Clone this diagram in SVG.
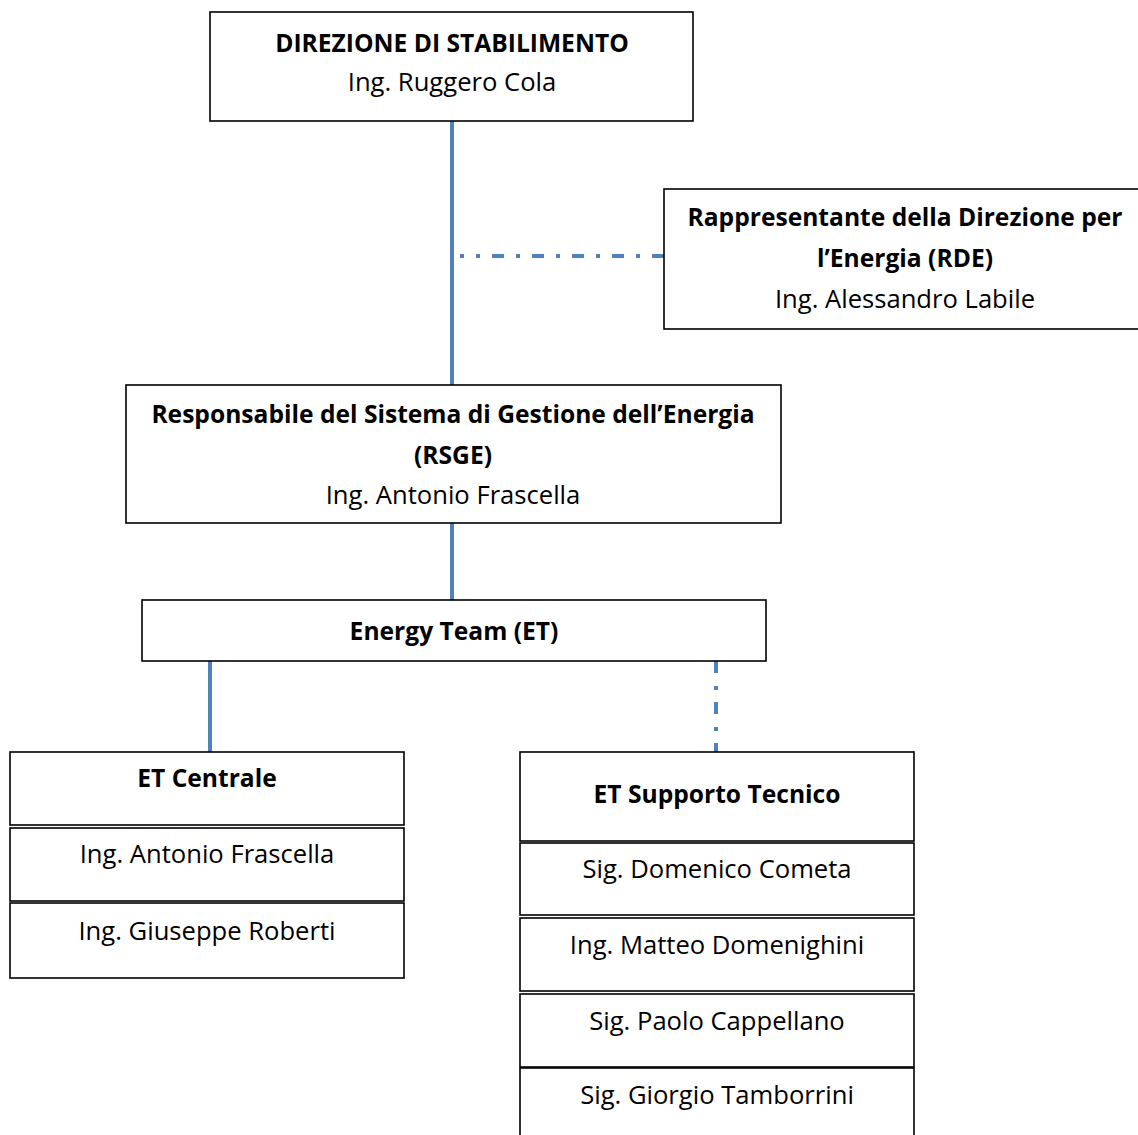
<svg xmlns="http://www.w3.org/2000/svg" width="1138" height="1135" viewBox="0 0 1138 1135">
<style>
.box{fill:#fff;stroke:#000;stroke-width:1.6}
.t{font-family:"Open Sans","Liberation Sans",sans-serif;font-size:25.6px;fill:#000;text-anchor:middle}
.b{font-weight:bold;font-size:24.6px}
.solid{stroke:#4F81BD;stroke-width:4;fill:none}
.dd{stroke:#4F81BD;stroke-width:4;fill:none}
</style>
<rect width="1138" height="1135" fill="#fff"/>
<g id="connectors">
<path class="solid" d="M452,121V385"/>
<path class="dd" d="M664,256H460" stroke-dasharray="12 12 4 12"/>
<path class="solid" d="M452,523V600"/>
<path class="solid" d="M210,661V752"/>
<path class="dd" d="M716,661V752" stroke-dasharray="12 13 4 12"/>
</g>
<g id="direzione">
<rect class="box" x="210" y="12" width="483" height="109"/>
<text class="t b" x="452" y="52">DIREZIONE DI STABILIMENTO</text>
<text class="t" x="452" y="91">Ing. Ruggero Cola</text>
</g>
<g id="rde">
<rect class="box" x="664" y="189" width="480" height="140"/>
<text class="t b" x="905" y="226">Rappresentante della Direzione per</text>
<text class="t b" x="905" y="267">l’Energia (RDE)</text>
<text class="t" x="905" y="308">Ing. Alessandro Labile</text>
</g>
<g id="rsge">
<rect class="box" x="126" y="385" width="655" height="138"/>
<text class="t b" x="453" y="423">Responsabile del Sistema di Gestione dell’Energia</text>
<text class="t b" x="453" y="464">(RSGE)</text>
<text class="t" x="453" y="504">Ing. Antonio Frascella</text>
</g>
<g id="energy-team">
<rect class="box" x="142" y="600" width="624" height="61"/>
<text class="t b" x="454" y="640">Energy Team (ET)</text>
</g>
<g id="et-centrale">
<rect class="box" x="10" y="752" width="394" height="73"/>
<text class="t b" x="207" y="787">ET Centrale</text>
<rect class="box" x="10" y="828" width="394" height="73"/>
<text class="t" x="207" y="863">Ing. Antonio Frascella</text>
<rect class="box" x="10" y="903" width="394" height="75"/>
<text class="t" x="207" y="940">Ing. Giuseppe Roberti</text>
</g>
<g id="et-supporto">
<rect class="box" x="520" y="752" width="394" height="89"/>
<text class="t b" x="717" y="803">ET Supporto Tecnico</text>
<rect class="box" x="520" y="843" width="394" height="72"/>
<text class="t" x="717" y="878">Sig. Domenico Cometa</text>
<rect class="box" x="520" y="918" width="394" height="73"/>
<text class="t" x="717" y="954">Ing. Matteo Domenighini</text>
<rect class="box" x="520" y="994" width="394" height="73"/>
<text class="t" x="717" y="1030">Sig. Paolo Cappellano</text>
<rect class="box" x="520" y="1068" width="394" height="80"/>
<text class="t" x="717" y="1104">Sig. Giorgio Tamborrini</text>
</g>
</svg>
